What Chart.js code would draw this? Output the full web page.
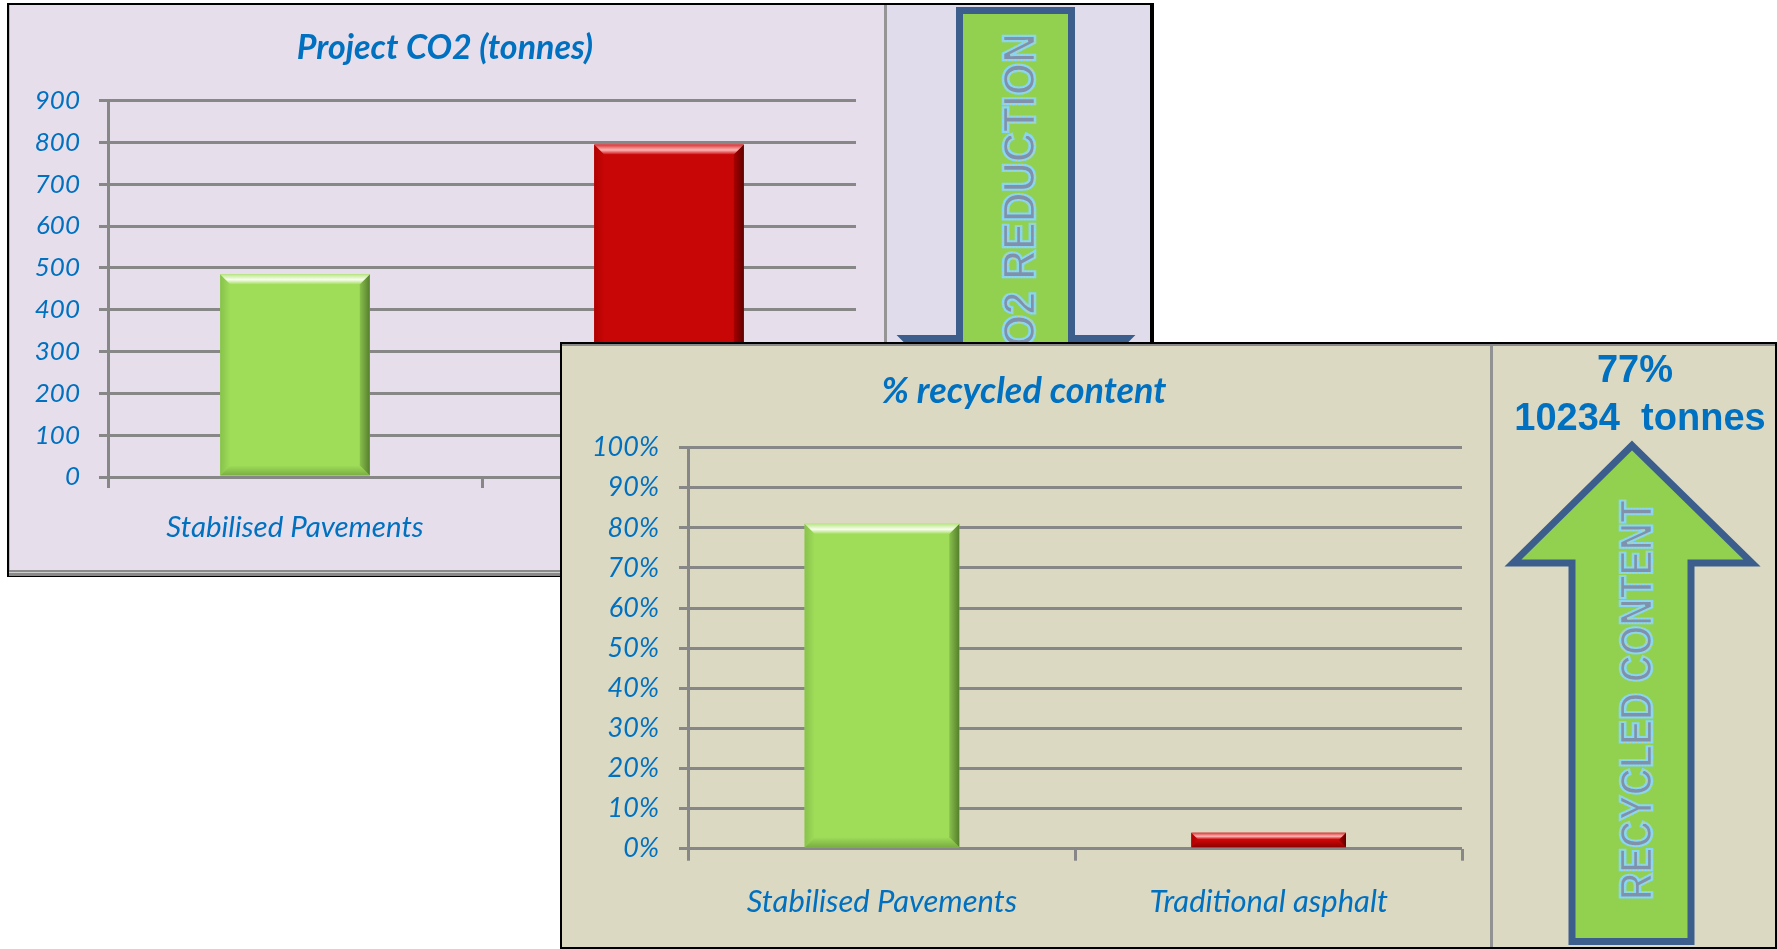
<!DOCTYPE html>
<html>
<head>
<meta charset="utf-8">
<script src="https://cdn.jsdelivr.net/npm/chart.js@4.4.1/dist/chart.umd.min.js"></script>
<style>
  body { margin: 0; width: 1777px; height: 949px; position: relative; overflow: hidden; background: #fff; }
  .abs { position: absolute; }
  #panel1 { left: 7px; top: 3px; width: 1147px; height: 574px; box-sizing: border-box; background: #E6DFEB;
            border: 2px solid #000; border-right-width: 4px; border-bottom-width: 1px; box-shadow: inset 1px 0 0 #b8b8b8; }
  #panel1 .side { position: absolute; left: 875px; top: 0; right: 0; bottom: 6px; background: #E0DCEB; border-left: 3px solid #959595; }
  #panel1 .strip { position: absolute; left: 0; right: 0; bottom: 0; height: 6px;
                   background: linear-gradient(#8a8a8a 0 2px, #cfcfcf 2px 3px, #8a8a8a 3px); }
  #panel2 { left: 560px; top: 342px; width: 1217px; height: 607px; box-sizing: border-box; background: #DCD9C3;
            border: 2px solid #000; box-shadow: inset 0 2px 0 #8a8a8a; }
  #panel2 .side { position: absolute; left: 928px; top: 2px; right: 0; bottom: 0; border-left: 3px solid #929292; }
  canvas { position: absolute; }
  svg { position: absolute; left: 0; top: 0; }
</style>
</head>
<body>
<div id="panel1" class="abs"><div class="side"></div><div class="strip"></div></div>
<canvas id="co2Chart" width="874" height="565" style="left:9px; top:5px;"></canvas>
<svg width="1777" height="949">
  <polygon points="959.5,10.5 1071.5,10.5 1071.5,338.5 1127,338.5 1016,449.5 905,338.5 959.5,338.5"
           fill="#92D050" stroke="#3B5E8C" stroke-width="7" stroke-linejoin="miter"/>
  <g transform="translate(1035,205) rotate(-90)" font-family="Liberation Sans, Arial, sans-serif" font-size="47" font-weight="bold">
    <text text-anchor="middle" textLength="344" lengthAdjust="spacingAndGlyphs" fill="#8091AB" stroke="#84D5F6" stroke-width="2.5">CO2 REDUCTION</text>
    <text text-anchor="middle" textLength="344" lengthAdjust="spacingAndGlyphs" fill="none" stroke="#C3D29A" stroke-width="1" stroke-dasharray="1 2">CO2 REDUCTION</text>
  </g>
</svg>

<div id="panel2" class="abs"><div class="side"></div></div>
<canvas id="recycledChart" width="928" height="601" style="left:562px; top:346px;"></canvas>
<svg width="1777" height="949">
  <polygon points="1632,445.5 1752,563 1691,563 1691,941.5 1572,941.5 1572,563 1513,563"
           fill="#92D050" stroke="#3B5E8C" stroke-width="7" stroke-linejoin="miter"/>
  <g transform="translate(1652,700) rotate(-90)" font-family="Liberation Sans, Arial, sans-serif" font-size="47" font-weight="bold">
    <text text-anchor="middle" textLength="400" lengthAdjust="spacingAndGlyphs" fill="#8091AB" stroke="#84D5F6" stroke-width="2.5">RECYCLED CONTENT</text>
    <text text-anchor="middle" textLength="400" lengthAdjust="spacingAndGlyphs" fill="none" stroke="#C3D29A" stroke-width="1" stroke-dasharray="1 2">RECYCLED CONTENT</text>
  </g>
  <g font-family="Liberation Sans, Arial, sans-serif" font-weight="bold" font-size="38" fill="#0070C0" text-anchor="middle">
    <text x="1635" y="381.5">77%</text>
    <text x="1640" y="430" xml:space="preserve">10234  tonnes</text>
  </g>
</svg>

<script>
const categories = ['Stabilised Pavements', 'Traditional asphalt'];
const co2Tonnes = [485, 795];
const recycledPercent = [81, 4];
const co2Ticks = [0, 100, 200, 300, 400, 500, 600, 700, 800, 900];
const percentTicks = [0, 10, 20, 30, 40, 50, 60, 70, 80, 90, 100];

const blue = '#0070C0';
const gridGray = '#878787';

// bevel colours per bar (green = stabilised, red = asphalt)
const palettes = [
  { base: '#9FDC58', top0: '#B9E684', topHi: '#F8FDF0', top1: '#A8E064', right0: '#88C04D', right1: '#557F2C',
    left0: '#88C24C', bottom: '#7AAE42' },
  { base: '#C80606', top0: '#D83434', topHi: '#FFB4B4', top1: '#CE1010', right0: '#A80000', right1: '#600000',
    left0: '#B00000', bottom: '#8E0000' }
];

function poly(ctx, pts, fill) {
  ctx.beginPath();
  ctx.moveTo(pts[0][0], pts[0][1]);
  for (let i = 1; i < pts.length; i++) ctx.lineTo(pts[i][0], pts[i][1]);
  ctx.closePath();
  ctx.fillStyle = fill;
  ctx.fill();
}

// Excel-style bevelled bar faces, drawn over each bar element
const bevelBars = {
  id: 'bevelBars',
  afterDatasetsDraw(chart) {
    const ctx = chart.ctx;
    chart.getDatasetMeta(0).data.forEach((bar, i) => {
      const p = bar.getProps(['x', 'y', 'base', 'width'], true);
      const c = palettes[i];
      const x0 = p.x - p.width / 2, x1 = p.x + p.width / 2;
      const y0 = Math.min(p.y, p.base), y1 = Math.max(p.y, p.base);
      const b = Math.min(10, (y1 - y0) / 2.2);
      ctx.save();

      let g = ctx.createLinearGradient(x0, 0, x0 + b, 0);
      g.addColorStop(0, c.left0); g.addColorStop(1, c.base);
      poly(ctx, [[x0, y0], [x0 + b, y0 + b], [x0 + b, y1 - b], [x0, y1]], g);

      g = ctx.createLinearGradient(0, y1 - b, 0, y1);
      g.addColorStop(0, c.base); g.addColorStop(1, c.bottom);
      poly(ctx, [[x0, y1], [x0 + b, y1 - b], [x1 - b, y1 - b], [x1, y1]], g);

      g = ctx.createLinearGradient(x1 - b, 0, x1, 0);
      g.addColorStop(0, c.right0); g.addColorStop(1, c.right1);
      poly(ctx, [[x1, y0], [x1, y1], [x1 - b, y1 - b], [x1 - b, y0 + b]], g);

      g = ctx.createLinearGradient(0, y0, 0, y0 + b);
      g.addColorStop(0, c.top0); g.addColorStop(0.55, c.topHi); g.addColorStop(1, c.top1);
      poly(ctx, [[x0, y0], [x1, y0], [x1 - b, y0 + b], [x0 + b, y0 + b]], g);

      ctx.restore();
    });
  }
};

function labelFont(size) {
  return { family: 'Lato, sans-serif', size: size, style: 'italic', weight: 'normal', lineHeight: 1.2 };
}

function makeChart(id, values, tickValues, opts) {
  return new Chart(document.getElementById(id), {
    type: 'bar',
    data: {
      labels: categories,
      datasets: [{
        data: values,
        backgroundColor: palettes.map(p => p.base),
        borderWidth: 0,
        categoryPercentage: 1,
        barPercentage: 0.4
      }]
    },
    options: {
      responsive: false,
      animation: false,
      events: [],
      layout: { padding: { left: opts.padLeft, right: opts.padRight, top: 0, bottom: 0 } },
      plugins: {
        legend: { display: false },
        tooltip: { enabled: false },
        title: {
          display: true,
          text: opts.title,
          color: blue,
          font: { family: 'Lato, sans-serif', size: opts.titleSize, style: 'italic', weight: 'bold', lineHeight: 1.2 },
          padding: { top: opts.titleTop, bottom: opts.titleBottom }
        }
      },
      scales: {
        x: {
          grid: { drawOnChartArea: false, drawTicks: true, tickLength: opts.xTick, color: gridGray, lineWidth: 3 },
          border: { display: false },
          ticks: { color: opts.xColor || blue, font: labelFont(opts.xFont), padding: opts.xPad, maxRotation: 0 },
          afterFit: s => { s.height = opts.xHeight; }
        },
        y: {
          min: tickValues[0],
          max: tickValues[tickValues.length - 1],
          afterBuildTicks: s => { s.ticks = tickValues.map(v => ({ value: v })); },
          grid: { color: gridGray, lineWidth: 3, tickLength: opts.yTick },
          border: { display: true, color: gridGray, width: 3 },
          ticks: { color: blue, font: labelFont(opts.yFont), padding: opts.yPad, callback: opts.fmt },
          afterFit: s => { s.width = opts.yWidth; }
        }
      }
    },
    plugins: [bevelBars]
  });
}

makeChart('co2Chart', co2Tonnes, co2Ticks, {
  title: 'Project CO2 (tonnes)', titleSize: 34, titleTop: 22.6, titleBottom: 32.2,
  padLeft: 25, padRight: 27, yWidth: 74, yTick: 9, yPad: 19, yFont: 26,
  xHeight: 93, xTick: 11, xPad: 22, xFont: 29.5,
  // second label sits entirely behind the front panel in the original
  xColor: c => (c.index === 1 ? 'rgba(0,0,0,0)' : blue),
  fmt: v => String(v)
});

makeChart('recycledChart', recycledPercent, percentTicks, {
  title: '% recycled content', titleSize: 36, titleTop: 23.4, titleBottom: 35,
  padLeft: 24, padRight: 28, yWidth: 102.6, yTick: 9.6, yPad: 20, yFont: 27,
  xHeight: 98.3, xTick: 12, xPad: 23, xFont: 31,
  fmt: v => v + '%'
});
</script>
</body>
</html>
